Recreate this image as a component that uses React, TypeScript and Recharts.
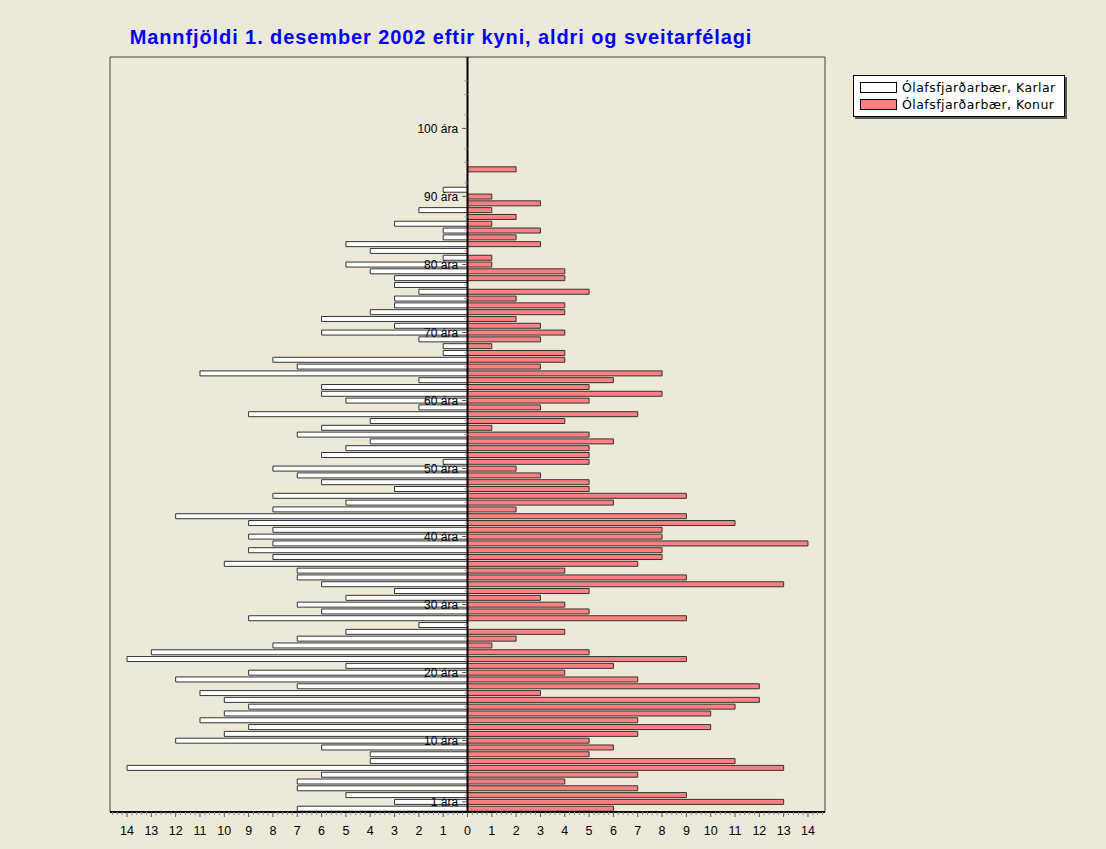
import React from 'react';
import { BarChart, Bar, XAxis, YAxis, ReferenceLine, ReferenceArea, Legend } from 'recharts';

// Ages 0..110 (bottom to top)
const ages: number[] = [
  0, 1, 2, 3, 4, 5, 6, 7, 8, 9, 10, 11, 12, 13, 14, 15, 16, 17, 18, 19,
  20, 21, 22, 23, 24, 25, 26, 27, 28, 29, 30, 31, 32, 33, 34, 35, 36, 37, 38, 39,
  40, 41, 42, 43, 44, 45, 46, 47, 48, 49, 50, 51, 52, 53, 54, 55, 56, 57, 58, 59,
  60, 61, 62, 63, 64, 65, 66, 67, 68, 69, 70, 71, 72, 73, 74, 75, 76, 77, 78, 79,
  80, 81, 82, 83, 84, 85, 86, 87, 88, 89, 90, 91, 92, 93, 94, 95, 96, 97, 98, 99,
  100, 101, 102, 103, 104, 105, 106, 107, 108, 109, 110,
];

const karlar: number[] = [
  7, 3, 5, 7, 7, 6, 14, 4, 4, 6,
  12, 10, 9, 11, 10, 9, 10, 11, 7, 12,
  9, 5, 14, 13, 8, 7, 5, 2, 9, 6,
  7, 5, 3, 6, 7, 7, 10, 8, 9, 8,
  9, 8, 9, 12, 8, 5, 8, 3, 6, 7,
  8, 1, 6, 5, 4, 7, 6, 4, 9, 2,
  5, 6, 6, 2, 11, 7, 8, 1, 1, 2,
  6, 3, 6, 4, 3, 3, 2, 3, 3, 4,
  5, 1, 4, 5, 1, 1, 3, 0, 2, 0,
  0, 1, 0, 0, 0, 0, 0, 0, 0, 0,
  0, 0, 0, 0, 0, 0, 0, 0, 0, 0, 0,
];

const konur: number[] = [
  6, 13, 9, 7, 4, 7, 13, 11, 5, 6,
  5, 7, 10, 7, 10, 11, 12, 3, 12, 7,
  4, 6, 9, 5, 1, 2, 4, 0, 9, 5,
  4, 3, 5, 13, 9, 4, 7, 8, 8, 14,
  8, 8, 11, 9, 2, 6, 9, 5, 5, 3,
  2, 5, 5, 5, 6, 5, 1, 4, 7, 3,
  5, 8, 5, 6, 8, 3, 4, 4, 1, 3,
  4, 3, 2, 4, 4, 2, 5, 0, 4, 4,
  1, 1, 0, 3, 2, 3, 1, 2, 1, 3,
  1, 0, 0, 0, 2, 0, 0, 0, 0, 0,
  0, 0, 0, 0, 0, 0, 0, 0, 0, 0, 0,
];

const seriesNames = ['Ólafsfjarðarbær, Karlar', 'Ólafsfjarðarbær, Konur'];
const labeledAges: number[] = [1, 10, 20, 30, 40, 50, 60, 70, 80, 90, 100];
const labelText = (a: number) => `${a} ára`;
const minorAges: number[] = [
  2, 5, 7, 12, 15, 17, 22, 25, 27, 32, 35, 37, 42, 45, 47, 52, 55, 57, 62, 65, 67,
  72, 75, 77, 82, 85, 87, 92, 95, 97, 102, 105, 107,
];

const xTicks: number[] = [];
for (let i = -73; i <= 73; i++) xTicks.push(Math.round(i * 2) / 10);

const data = ages.map((a, i) => ({ age: a, karlar: -karlar[i], konur: konur[i] }));

const XTick = (props: any) => {
  const { x, y, payload } = props;
  const v = payload.value as number;
  const major = Math.abs(v - Math.round(v)) < 1e-6;
  return (
    <g>
      <line x1={x} x2={x} y1={y} y2={y + (major ? 5 : 3)} stroke={major ? '#555' : '#888'} strokeWidth={1} />
      {major && (
        <text x={x} y={y + 23} textAnchor="middle" fontSize={12.5} fontFamily="Arial, 'Liberation Sans', sans-serif" fill="#000">
          {Math.abs(Math.round(v))}
        </text>
      )}
    </g>
  );
};

const LegendContent = () => (
  <div
    style={{
      background: '#fff',
      border: '1px solid #000',
      boxShadow: '2px 2px 0 #555',
      padding: '3px 8px 3px 6px',
      fontFamily: "'DejaVu Sans', sans-serif",
      fontSize: 12.5,
      letterSpacing: '0.45px',
      color: '#000',
      lineHeight: '17px',
      whiteSpace: 'nowrap',
    }}
  >
    {seriesNames.map((n, i) => (
      <div key={n} style={{ display: 'flex', alignItems: 'center' }}>
        <span
          style={{
            display: 'inline-block',
            width: 35,
            height: 9,
            border: '1px solid #000',
            background: i === 0 ? '#fff' : '#FF8080',
            marginRight: 5,
          }}
        />
        <span>{n}</span>
      </div>
    ))}
  </div>
);

export default function App() {
  return (
    <div style={{ position: 'relative', width: 1090, height: 835, background: '#ECE9D8' }}>
      <style>{`body{background:#ECE9D8;}`}</style>
      <div
        style={{
          position: 'absolute',
          left: 33,
          top: 19,
          width: 800,
          textAlign: 'center',
          fontFamily: "Arial, 'Liberation Sans', sans-serif",
          fontSize: 20,
          fontWeight: 'bold',
          letterSpacing: '0.9px',
          lineHeight: '20px',
          color: '#0000FF',
        }}
      >
        Mannfjöldi 1. desember 2002 eftir kyni, aldri og sveitarfélagi
      </div>
      <BarChart
        width={1090}
        height={835}
        data={data}
        layout="vertical"
        stackOffset="sign"
        margin={{ top: 49, left: 102, right: 273, bottom: 1 }}
        barCategoryGap={0}
      >
        <XAxis
          type="number"
          domain={[-14.7, 14.7]}
          ticks={xTicks}
          interval={0}
          allowDataOverflow
          tick={<XTick />}
          tickSize={0}
          tickMargin={0}
          tickLine={false}
          axisLine={{ stroke: '#000', strokeWidth: 2 }}
          height={30}
        />
        <YAxis type="category" dataKey="age" reversed hide />
        <ReferenceArea x1={-14.7} x2={14.7} fill="none" stroke="#404040" strokeWidth={1} ifOverflow="extendDomain" />
        <Bar dataKey="karlar" name={seriesNames[0]} stackId="s" fill="#FFFFFF" stroke="#333" strokeWidth={1} barSize={5} isAnimationActive={false} />
        <Bar dataKey="konur" name={seriesNames[1]} stackId="s" fill="#FF8080" stroke="#333" strokeWidth={1} barSize={5} isAnimationActive={false} />
        <ReferenceLine x={0} stroke="#000" strokeWidth={2} />
        {minorAges.map((a) => (
          <ReferenceLine
            key={`m${a}`}
            segment={[{ x: -0.12, y: a }, { x: 0, y: a }]}
            stroke="#888"
            strokeWidth={1}
          />
        ))}
        {labeledAges.map((a) => (
          <ReferenceLine
            key={`l${a}`}
            segment={[{ x: -0.22, y: a }, { x: 0, y: a }]}
            stroke="#555"
            strokeWidth={1}
            label={{ value: labelText(a), position: 'left', offset: 4, fontSize: 12, fill: '#000', fontFamily: "Arial, 'Liberation Sans', sans-serif" }}
          />
        ))}
        <Legend
          layout="vertical"
          align="center"
          verticalAlign="middle"
          content={<LegendContent />}
          wrapperStyle={{ left: 845, top: 67, width: 'auto', height: 'auto' }}
        />
      </BarChart>
    </div>
  );
}
